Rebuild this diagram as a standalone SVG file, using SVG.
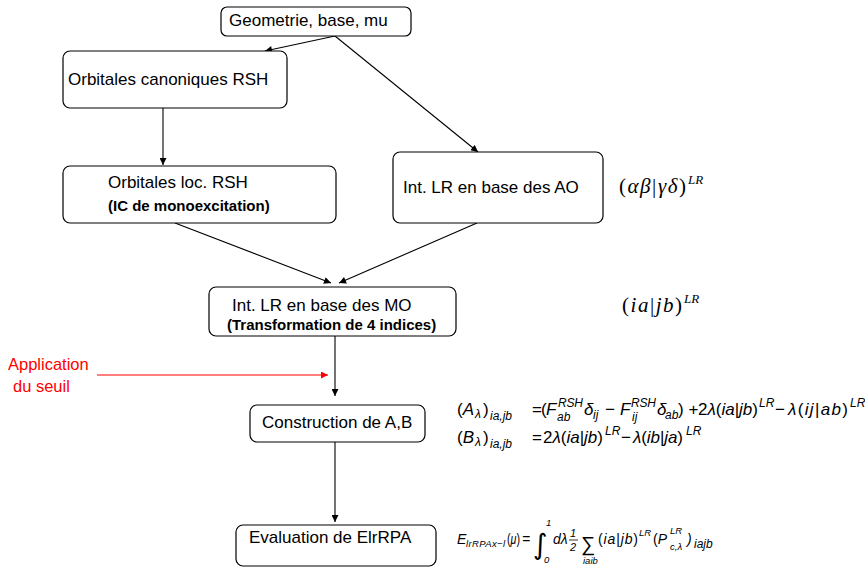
<svg xmlns="http://www.w3.org/2000/svg" width="865" height="567" viewBox="0 0 865 567">
<style>
.box{fill:#fff;stroke:#000;stroke-width:1.2}
.lbl{font-family:"Liberation Sans",Arial,sans-serif;font-size:17px;fill:#000}
.bold{font-family:"Liberation Sans",Arial,sans-serif;font-size:15px;font-weight:bold;fill:#000}
.red{font-family:"Liberation Sans",Arial,sans-serif;font-size:16.5px;fill:#f00}
.conn{stroke:#000;stroke-width:1.1;fill:none;marker-end:url(#ah)}
.rconn{stroke:#f00;stroke-width:1.1;fill:none;marker-end:url(#rah)}
.m{font-family:"Liberation Sans",Arial,sans-serif;font-size:17px;font-style:italic;fill:#000}
.s{font-family:"Liberation Sans",Arial,sans-serif;font-size:12px;font-style:italic;fill:#000}
.u{font-style:normal}
.cm{font-family:"Liberation Serif","Times New Roman",serif;font-size:21px;font-style:italic;fill:#000}
.cs{font-family:"Liberation Serif","Times New Roman",serif;font-size:13px;font-style:italic;fill:#000}
.e{font-family:"Liberation Sans",Arial,sans-serif;font-size:14px;font-style:italic;fill:#000}
.es{font-family:"Liberation Sans",Arial,sans-serif;font-size:9.5px;font-style:italic;fill:#000}
</style>
<defs>
<marker id="ah" viewBox="0 0 10 10" refX="10" refY="5" markerWidth="8" markerHeight="7" markerUnits="userSpaceOnUse" orient="auto"><path d="M0,0 L10,5 L0,10 z" fill="#000"/></marker>
<marker id="rah" viewBox="0 0 10 10" refX="10" refY="5" markerWidth="9" markerHeight="7" markerUnits="userSpaceOnUse" orient="auto"><path d="M0,0 L10,5 L0,10 z" fill="#f00"/></marker>
</defs>
<g id="connectors">
<line class="conn" x1="335" y1="36" x2="265" y2="51"/>
<line class="conn" x1="335" y1="36" x2="478" y2="152"/>
<line class="conn" x1="163" y1="108" x2="163" y2="165"/>
<line class="conn" x1="175" y1="223" x2="331" y2="283"/>
<line class="conn" x1="477" y1="223" x2="339" y2="283"/>
<line class="conn" x1="335" y1="336" x2="335" y2="396"/>
<line class="conn" x1="335" y1="442" x2="335" y2="522"/>
<line class="rconn" x1="97" y1="375" x2="328" y2="375"/>
</g>
<g id="n1"><rect class="box" x="221" y="7" width="190" height="29" rx="6"/><text class="lbl" x="229" y="26">Geometrie, base, mu</text></g>
<g id="n2"><rect class="box" x="63" y="51" width="224" height="57" rx="7"/><text class="lbl" x="68" y="85">Orbitales canoniques RSH</text></g>
<g id="n3"><rect class="box" x="63" y="166" width="273" height="57" rx="7"/><text class="lbl" x="108" y="188">Orbitales loc. RSH</text><text class="bold" x="108" y="211">(IC de monoexcitation)</text></g>
<g id="n4"><rect class="box" x="393" y="152" width="210" height="71" rx="7"/><text class="lbl" x="403" y="193">Int. LR en base des AO</text></g>
<g id="n5"><rect class="box" x="209" y="287" width="247" height="49" rx="7"/><text class="lbl" x="232" y="311">Int. LR en base des MO</text><text class="bold" x="227" y="330">(Transformation de 4 indices)</text></g>
<g id="n6"><rect class="box" x="250" y="405" width="175" height="37" rx="7"/><text class="lbl" x="262" y="428">Construction de A,B</text></g>
<g id="n7"><rect class="box" x="236" y="525" width="200" height="41" rx="7"/><text class="lbl" x="249" y="543">Evaluation de ElrRPA</text></g>
<g id="threshold"><text class="red" x="8" y="370">Application</text><text class="red" x="13" y="392">du seuil</text></g>
<g id="formulas">
<text class="cm" x="619" y="193" textLength="67" lengthAdjust="spacing"><tspan class="u">(</tspan>αβ<tspan class="u">|</tspan>γδ<tspan class="u">)</tspan></text>
<text class="cs" x="688" y="184">LR</text>
<text class="cm" x="622" y="312" textLength="60" lengthAdjust="spacing"><tspan class="u">(</tspan>ia<tspan class="u">|</tspan>jb<tspan class="u">)</tspan></text>
<text class="cs" x="684" y="303">LR</text>

<!-- line A -->
<text class="m" x="457" y="415"><tspan class="u">(</tspan>A</text>
<text class="s" x="475" y="418">λ</text>
<text class="m u" x="483" y="415">)</text>
<text class="s" x="490" y="420">ia,jb</text>
<text class="m u" x="532" y="415">=</text>
<text class="m u" x="541" y="415">(</text>
<text class="m" x="546" y="415">F</text>
<text class="s" x="558" y="407" textLength="25">RSH</text>
<text class="s" x="557" y="421">ab</text>
<text class="m" x="584" y="415">δ</text>
<text class="s" x="593" y="419">ij</text>
<text class="m u" x="605" y="415">−</text>
<text class="m" x="620" y="415">F</text>
<text class="s" x="631" y="407" textLength="25">RSH</text>
<text class="s" x="632" y="421">ij</text>
<text class="m" x="657" y="415">δ</text>
<text class="s" x="665" y="419">ab</text>
<text class="m u" x="678" y="415">) +</text>
<text class="m" x="698" y="415" textLength="60" lengthAdjust="spacing"><tspan class="u">2</tspan>λ<tspan class="u">(</tspan>ia<tspan class="u">|</tspan>jb<tspan class="u">)</tspan></text>
<text class="s" x="759" y="407">LR</text>
<text class="m u" x="775" y="415">−</text>
<text class="m" x="788" y="415" textLength="60" lengthAdjust="spacing">λ<tspan class="u">(</tspan>ij<tspan class="u">|</tspan>ab<tspan class="u">)</tspan></text>
<text class="s" x="850" y="407">LR</text>

<!-- line B -->
<text class="m" x="457" y="443"><tspan class="u">(</tspan>B</text>
<text class="s" x="475" y="446">λ</text>
<text class="m u" x="483" y="443">)</text>
<text class="s" x="490" y="448">ia,jb</text>
<text class="m u" x="532" y="443">=</text>
<text class="m" x="543" y="443" textLength="60" lengthAdjust="spacing"><tspan class="u">2</tspan>λ<tspan class="u">(</tspan>ia<tspan class="u">|</tspan>jb<tspan class="u">)</tspan></text>
<text class="s" x="605" y="435">LR</text>
<text class="m u" x="621" y="443">−</text>
<text class="m" x="633" y="443" textLength="50" lengthAdjust="spacing">λ<tspan class="u">(</tspan>ib<tspan class="u">|</tspan>ja<tspan class="u">)</tspan></text>
<text class="s" x="686" y="435">LR</text>

<!-- energy -->
<text class="e" x="457" y="544">E</text>
<text class="es" x="466" y="547" textLength="39">lrRPAx−l</text>
<text class="e" x="507" y="544" textLength="13" lengthAdjust="spacingAndGlyphs"><tspan class="u">(</tspan>μ<tspan class="u">)</tspan></text>
<text class="e u" x="522" y="544">=</text>
<text x="533" y="554" style="font-family:'DejaVu Sans',sans-serif;font-size:28px;fill:#000">∫</text>
<text class="es u" x="546" y="526">1</text>
<text class="es u" x="544" y="563">0</text>
<text class="e" x="553" y="544">dλ</text>
<text class="e u" x="570" y="537" style="font-size:11px">1</text>
<line x1="569" y1="540" x2="578" y2="540" stroke="#000" stroke-width="0.8"/>
<text class="e u" x="570" y="551" style="font-size:11px">2</text>
<text x="581" y="551" style="font-family:'Liberation Sans',Arial,sans-serif;font-size:20px;fill:#000">∑</text>
<text class="es" x="583" y="564">iaib</text>
<text class="e" x="598" y="544" textLength="40" lengthAdjust="spacing"><tspan class="u">(</tspan>ia<tspan class="u">|</tspan>jb<tspan class="u">)</tspan></text>
<text class="es" x="639" y="536">LR</text>
<text class="e" x="653" y="544"><tspan class="u">(</tspan>P</text>
<text class="es" x="670" y="534">LR</text>
<text class="es" x="670" y="550">c,λ</text>
<text class="e u" x="687" y="544">)</text>
<text class="e" x="694" y="548" style="font-size:12px">iajb</text>
</g>
</svg>
